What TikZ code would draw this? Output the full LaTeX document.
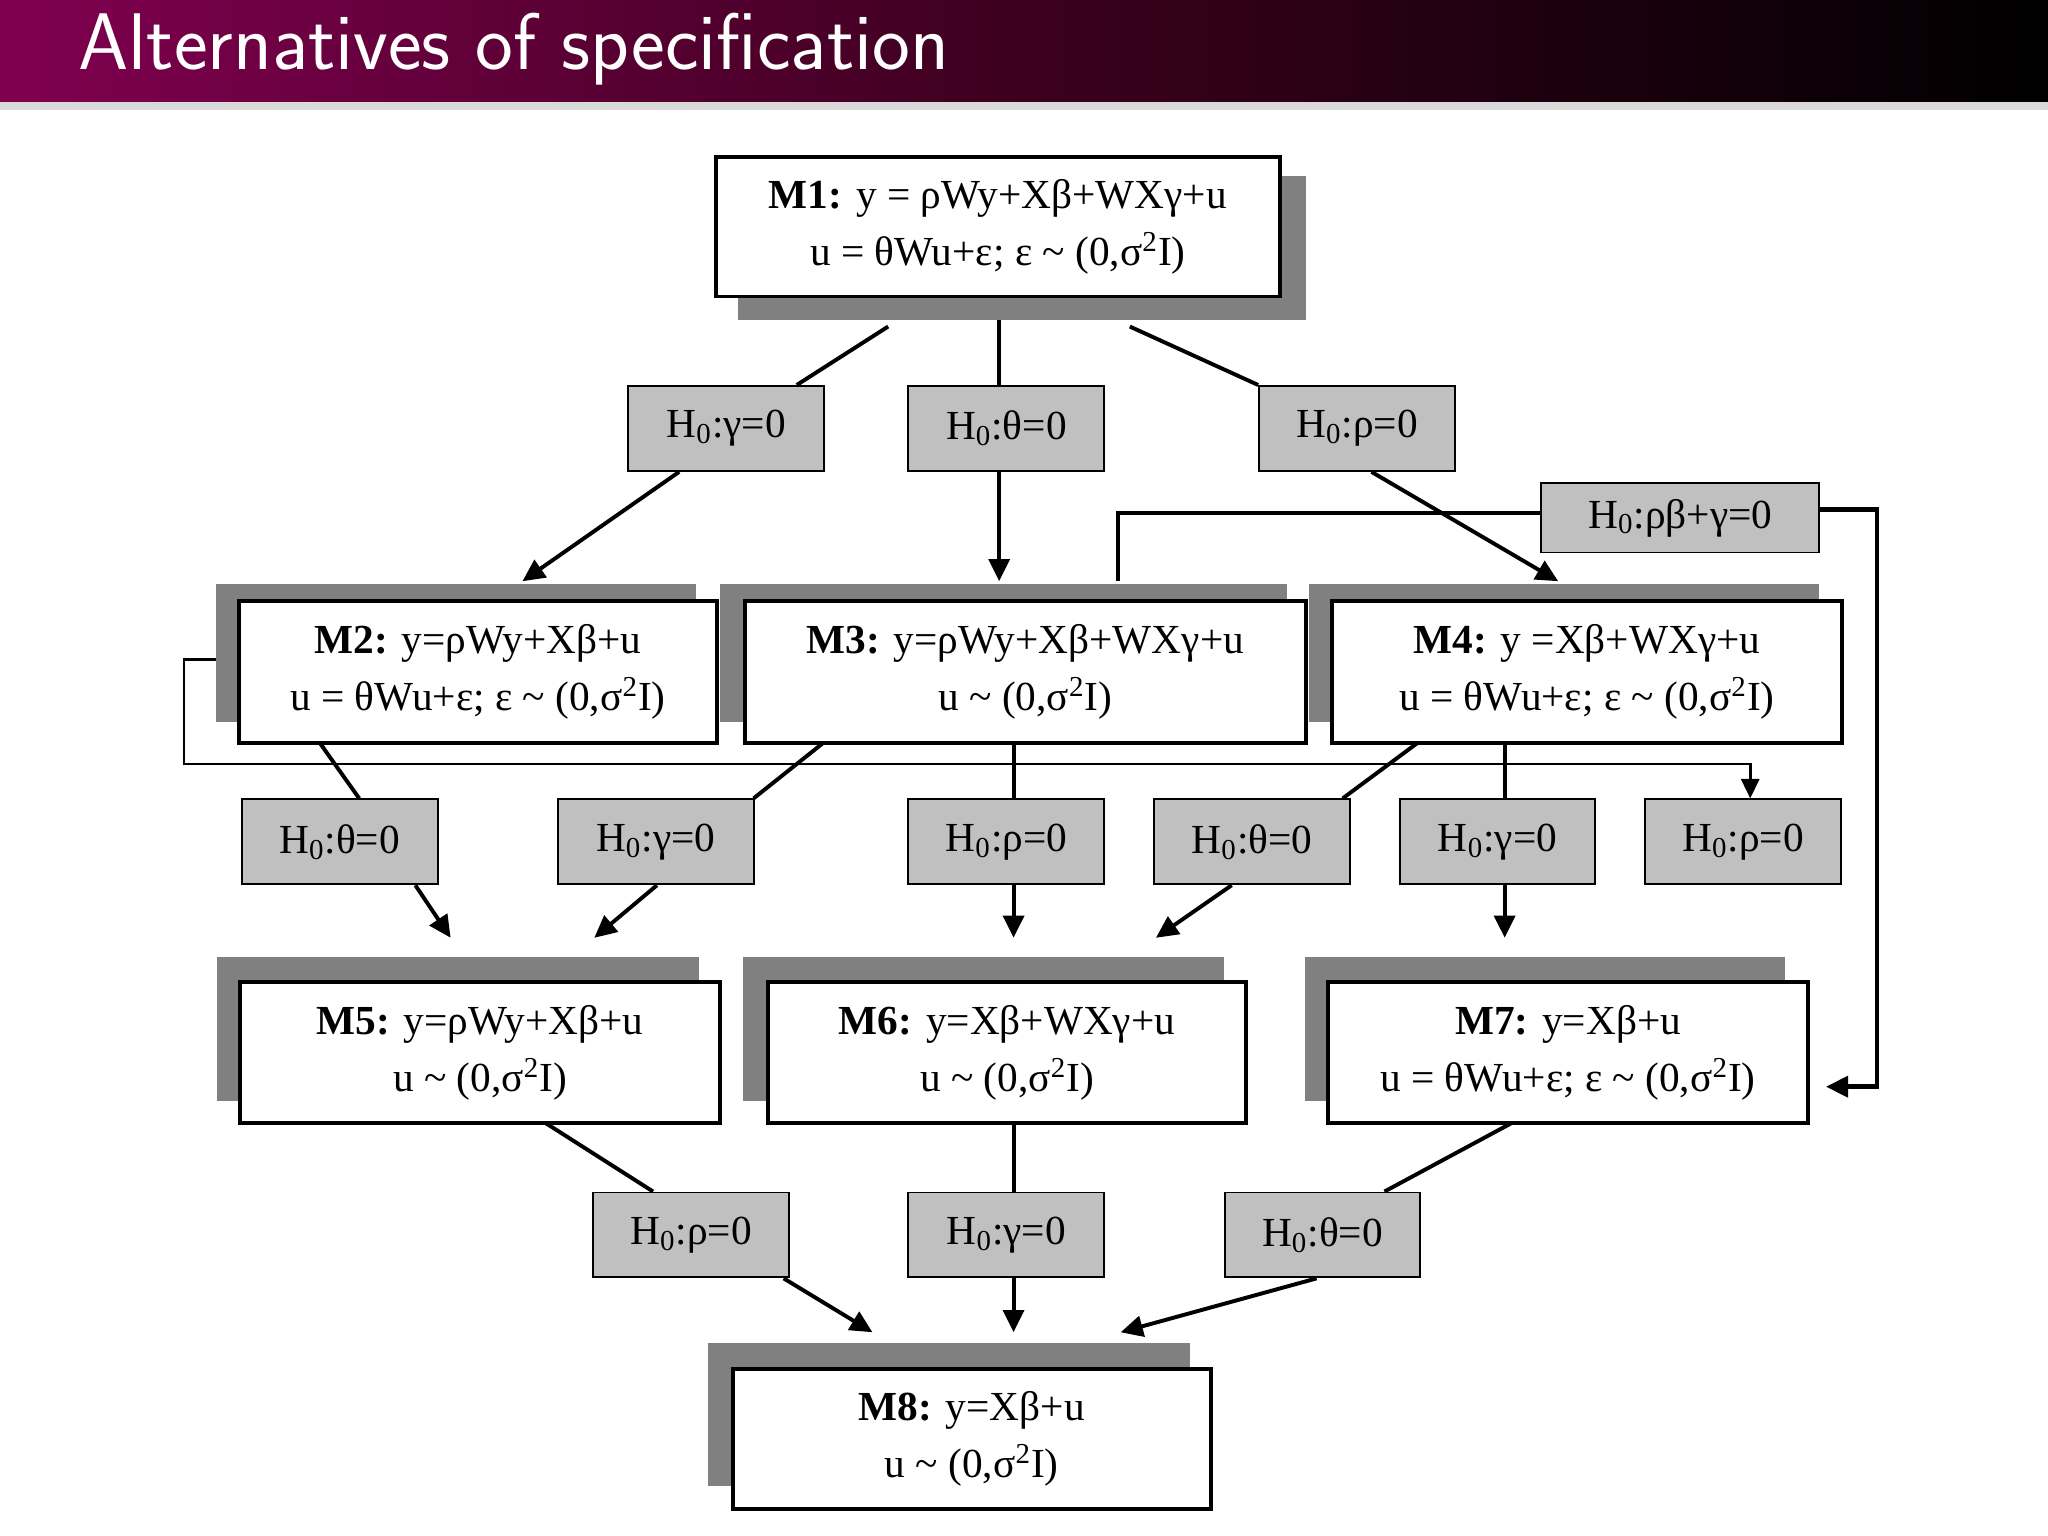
\documentclass[tikz,border=0pt]{standalone}
\usepackage{fontspec}
\setmainfont{Liberation Serif}
\usetikzlibrary{arrows.meta,calc,backgrounds}
\definecolor{hdr}{RGB}{128,0,80}
\definecolor{shd}{RGB}{128,128,128}
\definecolor{hfill}{RGB}{192,192,192}
\newcommand{\Hz}{H\textsubscript{0}}
\newcommand{\sig}{(0,σ\textsuperscript{2}I)}
\newcommand{\tl}{\textasciitilde}
\tikzset{
 mbox/.style={draw, line width=0.06cm, fill=white, align=center, inner sep=0pt, font=\fontsize{18}{25}\selectfont},
 hbox/.style={draw, line width=0.03cm, fill=hfill, inner sep=0pt, minimum width=3cm, minimum height=1.3cm, font=\fontsize{18}{20}\selectfont},
 conn/.style={line width=0.06cm},
 arr/.style={line width=0.06cm, -{Triangle[length=0.34cm,width=0.32cm]}},
 thin/.style={line width=0.04cm}
}
\begin{document}
\begin{tikzpicture}[x=0.02cm,y=-0.02cm]
\useasboundingbox (0,0) rectangle (1568,1176);
\shade[left color=hdr, right color=black, middle color={rgb,255:red,60;green,0;blue,30}] (0,0) rectangle (1568,78);
\fill[black!15] (0,78) rectangle (1568,84);
\node[anchor=west, text=white, font=\sffamily\fontsize{35}{40}\selectfont] (title) at (54,38) {Alternatives of specification};
% model boxes
\node[mbox, minimum width=8.64cm, minimum height=2.14cm] (M1) at (764,173.5) {\textbf{M1:} y = ρWy+Xβ+WXγ+u\\ u = θWu+ε; ε \tl\ \sig};
\node[mbox, minimum width=7.32cm, minimum height=2.18cm] (M2) at (366,514.5) {\textbf{M2:} y=ρWy+Xβ+u\\ u = θWu+ε; ε \tl\ \sig};
\node[mbox, minimum width=8.6cm, minimum height=2.18cm] (M3) at (785,514.5) {\textbf{M3:} y=ρWy+Xβ+WXγ+u\\ u \tl\ \sig};
\node[mbox, minimum width=7.8cm, minimum height=2.18cm] (M4) at (1215,514.5) {\textbf{M4:} y =Xβ+WXγ+u\\ u = θWu+ε; ε \tl\ \sig};
\node[mbox, minimum width=7.34cm, minimum height=2.16cm] (M5) at (367.5,806) {\textbf{M5:} y=ρWy+Xβ+u\\ u \tl\ \sig};
\node[mbox, minimum width=7.32cm, minimum height=2.16cm] (M6) at (771,806) {\textbf{M6:} y=Xβ+WXγ+u\\ u \tl\ \sig};
\node[mbox, minimum width=7.34cm, minimum height=2.16cm] (M7) at (1200.5,806) {\textbf{M7:} y=Xβ+u\\ u = θWu+ε; ε \tl\ \sig};
\node[mbox, minimum width=7.32cm, minimum height=2.14cm] (M8) at (744,1101.5) {\textbf{M8:} y=Xβ+u\\ u \tl\ \sig};
% hypothesis boxes
\node[hbox] (a1) at (556,328) {\Hz:γ=0};
\node[hbox] (a2) at (770.5,328) {\Hz:θ=0};
\node[hbox] (a3) at (1039,328) {\Hz:ρ=0};
\node[hbox, minimum width=4.26cm, minimum height=1.06cm] (a4) at (1286.5,396.5) {\Hz:ρβ+γ=0};
\node[hbox] (b1) at (260,644.5) {\Hz:θ=0};
\node[hbox] (b2) at (502,644.5) {\Hz:γ=0};
\node[hbox] (b3) at (770.5,644.5) {\Hz:ρ=0};
\node[hbox] (b4) at (958.5,644.5) {\Hz:θ=0};
\node[hbox] (b5) at (1146.5,644.5) {\Hz:γ=0};
\node[hbox] (b6) at (1334.5,644.5) {\Hz:ρ=0};
\node[hbox] (c1) at (529,945.5) {\Hz:ρ=0};
\node[hbox] (c2) at (770.5,945.5) {\Hz:γ=0};
\node[hbox] (c3) at (1012.5,945.5) {\Hz:θ=0};
\coordinate (m7in) at (1398,832);
\begin{scope}[on background layer]
% connectors
\draw[conn] (680,250) -- (a1.north -| 610,0);
\draw[arr] (a1.south -| 520,0) -- (400,445);
\draw[conn] (M1.south -| 765,0) -- (a2.north -| 765,0);
\draw[arr] (a2.south -| 765,0) -- (765,445);
\draw[conn] (865,250) -- (a3.north west);
\draw[arr] (a3.south -| 1050,0) -- (1193,445);
\draw[conn] (856,445) -- (856,393) -- (a4.west |- 0,393);
\draw[line width=0.07cm, -{Triangle[length=0.34cm,width=0.32cm]}] (a4.east |- 0,390) -- (1437,390) -- (1437,832) -- (m7in);
\draw[thin, -{Triangle[length=0.3cm,width=0.28cm]}] (M2.west |- 0,505) -- (141,505) -- (141,585) -- (1340,585) -- (b6.north -| 1340,0);
\draw[conn] (245,569) -- (b1.north -| 275,0);
\draw[arr] (b1.south -| 318,0) -- (345,718);
\draw[conn] (630,569) -- (b2.north -| 577,0);
\draw[arr] (b2.south -| 503,0) -- (455,718);
\draw[conn] (M3.south -| 776,0) -- (b3.north -| 776,0);
\draw[arr] (b3.south -| 776,0) -- (776,718);
\draw[conn] (1085,569) -- (b4.north -| 1028,0);
\draw[arr] (b4.south -| 943,0) -- (885,718);
\draw[conn] (M4.south -| 1152,0) -- (b5.north -| 1152,0);
\draw[arr] (b5.south -| 1152,0) -- (1152,718);
\draw[conn] (418,860) -- (c1.north -| 500,0);
\draw[arr] (c1.south -| 600,0) -- (668,1020);
\draw[conn] (M6.south -| 776,0) -- (c2.north -| 776,0);
\draw[arr] (c2.south -| 776,0) -- (776,1020);
\draw[conn] (1157,860) -- (c3.north -| 1060,0);
\draw[arr] (c3.south -| 1008,0) -- (858,1020);
% shadows
\fill[shd] (565,135) rectangle (1000,245);
\fill[shd] (165,447) rectangle (533,553);
\fill[shd] (551,447) rectangle (985,553);
\fill[shd] (1002,447) rectangle (1393,553);
\fill[shd] (166,733) rectangle (535,843);
\fill[shd] (569,733) rectangle (937,843);
\fill[shd] (999,733) rectangle (1367,843);
\fill[shd] (542,1028) rectangle (911,1138);
\end{scope}
\end{tikzpicture}
\end{document}
